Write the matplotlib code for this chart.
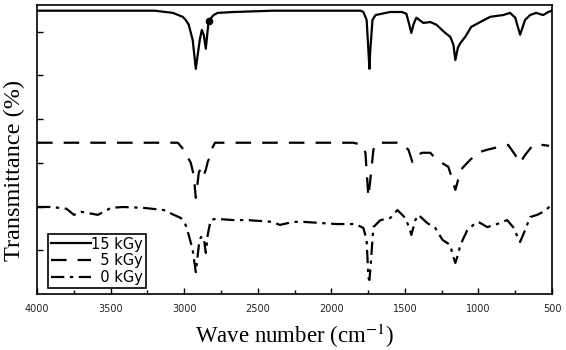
import matplotlib.pyplot as plt

plt.rcParams['font.family'] = ['DejaVu Sans']
plt.rcParams['mathtext.fontset'] = 'stix'

# 15 kGy spectrum (wavenumber, transmittance in offset units)
wn_15 = [4000, 3500, 3200, 3077, 3010, 2990, 2969, 2942, 2921, 2894, 2880, 2867,
         2853, 2840, 2833, 2800, 2772, 2663, 2400, 1800, 1782, 1760, 1748, 1741,
         1735, 1720, 1700, 1600, 1520, 1490, 1470, 1456, 1440, 1422, 1374, 1327,
         1286, 1225, 1191, 1170, 1157, 1140, 1123, 1090, 1049, 988, 920, 832,
         785, 750, 717, 683, 649, 608, 560, 526, 500]
tr_15 = [6.48, 6.48, 6.48, 6.43, 6.34, 6.27, 6.16, 5.81, 5.15, 5.81, 6.04, 5.93,
         5.61, 6.04, 6.25, 6.38, 6.43, 6.45, 6.48, 6.48, 6.45, 6.27, 5.58, 5.15,
         5.58, 6.27, 6.38, 6.45, 6.45, 6.41, 6.16, 5.97, 6.18, 6.32, 6.20, 6.22,
         6.16, 5.97, 5.88, 5.70, 5.35, 5.63, 5.74, 5.88, 6.11, 6.22, 6.34, 6.38,
         6.43, 6.32, 5.93, 6.27, 6.38, 6.43, 6.38, 6.45, 6.48]

# 5 kGy spectrum
wn_5 = [4000, 3043, 3003, 2955, 2935, 2921, 2900, 2880, 2867, 2853, 2840, 2820,
        2806, 2790, 1850, 1790, 1768, 1748, 1735, 1714, 1690, 1530, 1476, 1449,
        1420, 1381, 1327, 1300, 1259, 1205, 1180, 1157, 1120, 1076, 1008, 940,
        866, 798, 750, 717, 683, 628, 567, 520]
tr_5 = [3.46, 3.46, 3.30, 3.00, 2.72, 2.20, 2.79, 2.88, 2.72, 2.84, 3.02, 3.18,
        3.36, 3.46, 3.46, 3.41, 3.23, 2.22, 2.61, 3.30, 3.46, 3.46, 3.30, 3.02,
        3.18, 3.23, 3.23, 3.13, 3.02, 2.91, 2.65, 2.38, 2.84, 3.00, 3.23, 3.30,
        3.36, 3.41, 3.18, 3.00, 3.18, 3.41, 3.41, 3.39]

# 0 kGy spectrum
wn_0 = [4000, 3900, 3800, 3749, 3700, 3586, 3498, 3417, 3274, 3138, 3070, 3023,
        2990, 2969, 2942, 2921, 2900, 2887, 2867, 2853, 2840, 2820, 2786, 2663,
        2568, 2400, 2350, 2256, 2189, 1965, 1836, 1782, 1760, 1748, 1741, 1735,
        1714, 1666, 1598, 1551, 1497, 1470, 1456, 1429, 1408, 1347, 1293, 1245,
        1191, 1175, 1157, 1140, 1123, 1076, 1035, 1001, 940, 873, 805, 764,
        740, 717, 683, 649, 601, 560, 526, 500]
tr_0 = [1.99, 1.99, 1.95, 1.81, 1.88, 1.81, 1.97, 1.99, 1.97, 1.92, 1.81, 1.74,
        1.58, 1.35, 1.01, 0.50, 1.12, 1.30, 1.30, 0.94, 1.35, 1.69, 1.72, 1.69,
        1.69, 1.65, 1.58, 1.65, 1.65, 1.60, 1.60, 1.51, 1.24, 0.37, 0.32, 0.55,
        1.53, 1.69, 1.74, 1.92, 1.74, 1.51, 1.35, 1.69, 1.81, 1.62, 1.51, 1.24,
        1.12, 0.89, 0.71, 0.89, 1.12, 1.46, 1.58, 1.65, 1.53, 1.60, 1.69, 1.53,
        1.35, 1.19, 1.46, 1.76, 1.81, 1.88, 1.97, 2.04]

labels = ['15 kGy', '  5 kGy', '  0 kGy']
x_ticks = [4000, 3500, 3000, 2500, 2000, 1500, 1000, 500]


def plot_chart():
    fig = plt.figure(figsize=(5.66, 3.5), dpi=100)
    ax = fig.add_axes([0.0654, 0.16, 0.9099, 0.8257])

    dot = wn_15.index(2833)
    ax.plot(wn_15, tr_15, color='black', lw=1.6, ls='-', label=labels[0],
            marker='o', markersize=4.5, markevery=[dot])
    ax.plot(wn_5, tr_5, color='black', lw=1.6, ls=(0, (7, 5)), label=labels[1])
    ax.plot(wn_0, tr_0, color='black', lw=1.6, ls=(0, (6, 2.5, 1.5, 2.5)),
            label=labels[2])

    ax.set_xlim(4000, 500)
    ax.set_ylim(0, 6.61)
    ax.set_xticks(x_ticks)
    ax.set_xticks([3750, 3250, 2750, 2250, 1750, 1250, 750], minor=True)
    ax.set_yticks([1, 2, 3, 4, 5, 6])
    ax.set_yticklabels([])
    ax.tick_params(axis='both', which='major', direction='in', length=4,
                   width=1, labelsize=7, pad=7, labelcolor='#222222')
    ax.tick_params(axis='x', which='minor', direction='in', length=3, width=1)
    for sp in ax.spines.values():
        sp.set_linewidth(1.2)

    ax.set_xlabel('Wave number (cm$^{-1}$)', family='Liberation Serif',
                  fontsize=16.5)
    ax.set_ylabel('Transmittance (%)', family='Liberation Serif', fontsize=17.5)
    ax.yaxis.set_label_coords(-0.023, 0.426)
    ax.xaxis.set_label_coords(0.5, -0.098)

    leg = ax.legend(loc='lower left', bbox_to_anchor=(0.021, 0.021),
                    borderaxespad=0, fontsize=10.5, handlelength=2.75,
                    handletextpad=0, fancybox=False, edgecolor='black',
                    framealpha=1, borderpad=0.2, labelspacing=0.12,
                    markerscale=0)
    leg.get_frame().set_linewidth(1.2)

    fig.savefig('out.png', dpi=100)


def main():
    plot_chart()


main()
